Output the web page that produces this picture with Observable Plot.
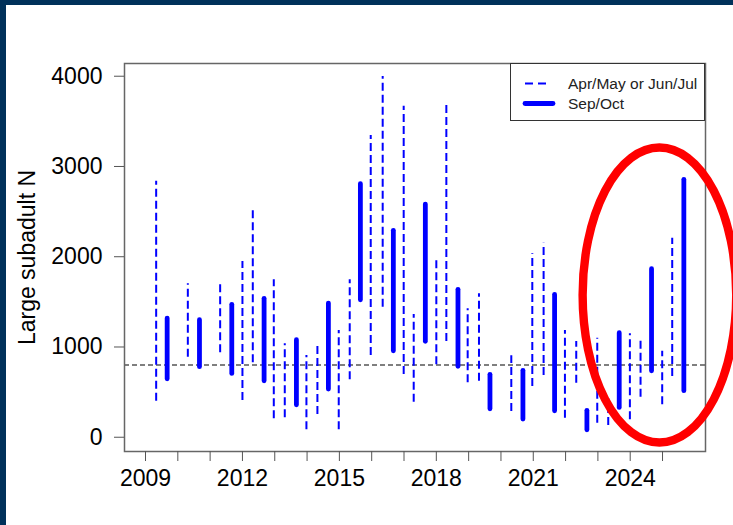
<!DOCTYPE html>
<html><head><meta charset="utf-8">
<script src="https://cdn.jsdelivr.net/npm/d3@7"></script>
<script src="https://cdn.jsdelivr.net/npm/@observablehq/plot@0.6"></script>
<style>
html,body{margin:0;padding:0;}
body{width:733px;height:525px;background:#00315a;position:relative;overflow:hidden;font-family:"Liberation Sans",Arial,sans-serif;}
#panel{position:absolute;left:6px;top:5px;right:0;bottom:0;background:#fff;}
#chart{position:absolute;left:0;top:0;}
#legend{position:absolute;left:510px;top:63px;width:195px;height:58px;box-sizing:border-box;border:1px solid #333;background:#fff;}
#legend svg{position:absolute;left:-1px;top:-1px;}
</style></head>
<body>
<div id="panel"></div>
<div id="chart"></div>
<div id="legend"></div>
<script>
// Apr/May or Jun/Jul estimates (dashed): x position, upper, lower
const springX    = [2009.33,2010.31,2011.31,2012.00,2012.32,2012.97,2013.31,2013.98,2014.32,2014.98,2015.32,2015.97,2016.34,2016.99,2017.30,2018.00,2018.31,2018.97,2019.32,2020.32,2020.97,2021.32,2021.98,2022.33,2022.98,2023.32,2023.99,2024.32,2024.99,2025.30];
const springHigh = [2837,1700,1700,1947,2548,1744,1035,905,1046,1182,1744,3343,3997,3668,1360,1966,3683,1423,1589,902,2032,2150,1182,1060,1097,430,1146,1083,953,2205];
const springLow  = [399,886,935,407,824,204,215,82,251,82,636,905,1441,695,388,802,1060,603,620,285,562,684,211,598,155,130,193,443,359,673];
// Sep/Oct estimates (solid)
const fallX    = [2009.67,2010.67,2011.67,2012.67,2013.67,2014.66,2015.65,2016.67,2017.66,2018.67,2019.66,2020.68,2021.66,2022.66,2023.66,2024.66,2025.66];
const fallHigh = [1315,1297,1467,1534,1075,1481,2804,2287,2578,1633,691,736,1578,293,1153,1862,2852];
const fallLow  = [642,776,702,620,354,528,1518,953,1057,780,310,196,288,77,325,731,510];
const refLine = [800];
const yTicks = [0,1000,2000,3000,4000];
const xTicks = [2009,2010,2011,2012,2013,2014,2015,2016,2017,2018,2019,2020,2021,2022,2023,2024,2025];
const xLabels = [2009,2012,2015,2018,2021,2024];
const yLabel = "Large subadult N";
const legendLabels = ["Apr/May or Jun/Jul","Sep/Oct"];
// annotation ellipse: center (x, y) and radii in data units
const ellipseCenter = [2024.92, 1570];
const ellipseRadii = [2.377, 1634];

const spring = springX.map((x,i)=>({x, hi: springHigh[i], lo: springLow[i]}));
const fall = fallX.map((x,i)=>({x, hi: fallHigh[i], lo: fallLow[i]}));
const FONT = '"Liberation Sans", Arial, sans-serif';

const plot = Plot.plot({
  width: 733, height: 525,
  marginLeft: 124, marginRight: 28, marginTop: 63, marginBottom: 74,
  style: {background: "transparent", fontFamily: FONT, fontSize: "23px", color: "black", overflow: "visible"},
  x: {domain: [2008.35, 2026.33]},
  y: {domain: [-158, 4141]},
  marks: [
    Plot.ruleY(refLine, {y: d=>d, stroke: "#555", strokeWidth: 1.5, strokeDasharray: "5,3"}),
    Plot.ruleX(spring, {x: "x", y1: "lo", y2: "hi", stroke: "#0000ff", strokeWidth: 2, strokeDasharray: "8,4"}),
    Plot.ruleX(fall, {x: "x", y1: "lo", y2: "hi", stroke: "#0000ff", strokeWidth: 4.8, strokeLinecap: "round"}),
    Plot.frame({stroke: "#666", strokeWidth: 1.5}),
    Plot.axisY({ticks: yTicks, tickSize: 10, tickPadding: 12, stroke: "#555", fill: "black", fontSize: 23, label: null, tickFormat: d=>String(d)}),
    Plot.axisX({ticks: xTicks, tickSize: 10, tickPadding: 8, stroke: "#555", fill: "black", fontSize: 23, label: null, tickFormat: d => xLabels.includes(d) ? String(d) : ""}),
    Plot.text([yLabel], {text: d=>d, frameAnchor: "left", textAnchor: "middle", dx: -97, rotate: -90, fontSize: 23, fill: "black"})
  ]
});
document.getElementById("chart").appendChild(plot);

// red annotation ellipse positioned through the plot's scales
const sx = plot.scale("x"), sy = plot.scale("y");
const cx = sx.apply(ellipseCenter[0]), cy = sy.apply(ellipseCenter[1]);
const rx = sx.apply(ellipseCenter[0] + ellipseRadii[0]) - cx;
const ry = cy - sy.apply(ellipseCenter[1] + ellipseRadii[1]);
d3.select(plot).append("ellipse")
  .attr("cx", cx).attr("cy", cy).attr("rx", rx).attr("ry", ry)
  .attr("fill", "none").attr("stroke", "#ff0000").attr("stroke-width", 8.4);

// legend
const lg = d3.select("#legend").append("svg").attr("width", 196).attr("height", 60)
  .style("font-family", FONT);
lg.append("line").attr("x1", 15).attr("x2", 40).attr("y1", 20.5).attr("y2", 20.5)
  .attr("stroke", "#0000ff").attr("stroke-width", 2).attr("stroke-dasharray", "8,5");
lg.append("line").attr("x1", 15).attr("x2", 43).attr("y1", 40.5).attr("y2", 40.5)
  .attr("stroke", "#0000ff").attr("stroke-width", 4.8).attr("stroke-linecap", "round");
legendLabels.forEach((t,i)=>{
  lg.append("text").attr("x", 58).attr("y", 20.5 + 20*i).attr("dy", "0.35em")
    .attr("font-size", 15.5).attr("fill", "#222").text(t);
});
</script>
</body></html>
